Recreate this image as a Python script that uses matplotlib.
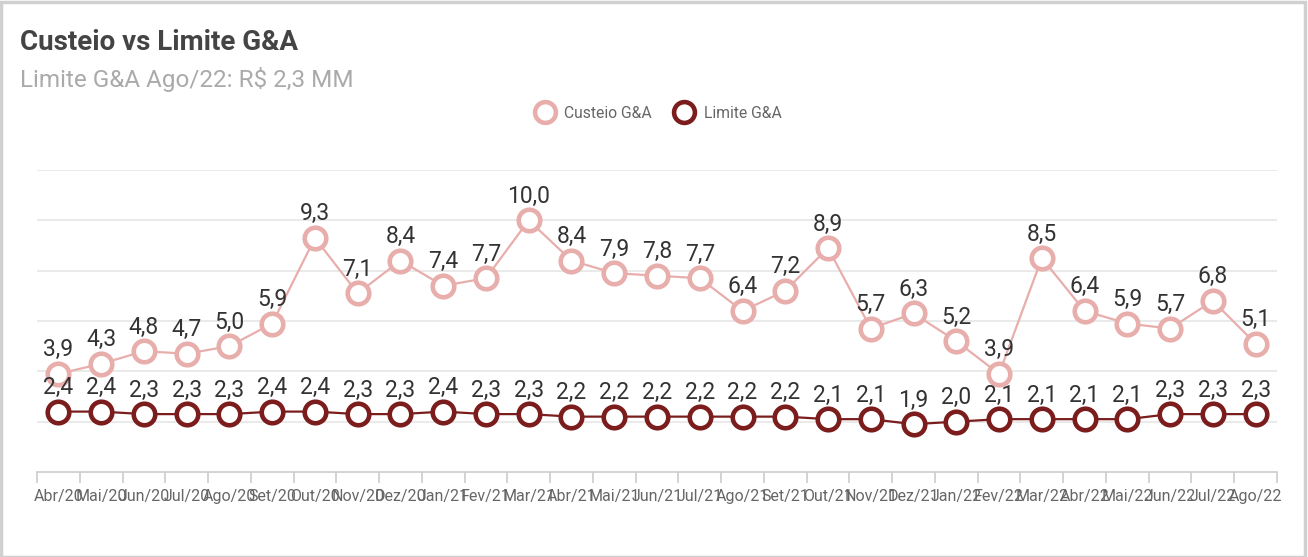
import matplotlib.pyplot as plt
from matplotlib.patches import Rectangle
import numpy as np

meses = ['Abr/20', 'Mai/20', 'Jun/20', 'Jul/20', 'Ago/20', 'Set/20', 'Out/20', 'Nov/20',
         'Dez/20', 'Jan/21', 'Fev/21', 'Mar/21', 'Abr/21', 'Mai/21', 'Jun/21', 'Jul/21',
         'Ago/21', 'Set/21', 'Out/21', 'Nov/21', 'Dez/21', 'Jan/22', 'Fev/22', 'Mar/22',
         'Abr/22', 'Mai/22', 'Jun/22', 'Jul/22', 'Ago/22']
custeio = [3.9, 4.3, 4.8, 4.7, 5.0, 5.9, 9.3, 7.1, 8.4, 7.4, 7.7, 10.0, 8.4, 7.9, 7.8, 7.7,
           6.4, 7.2, 8.9, 5.7, 6.3, 5.2, 3.9, 8.5, 6.4, 5.9, 5.7, 6.8, 5.1]
limite = [2.4, 2.4, 2.3, 2.3, 2.3, 2.4, 2.4, 2.3, 2.3, 2.4, 2.3, 2.3, 2.2, 2.2, 2.2, 2.2,
          2.2, 2.2, 2.1, 2.1, 1.9, 2.0, 2.1, 2.1, 2.1, 2.1, 2.3, 2.3, 2.3]

plt.rcParams['font.family'] = ['Roboto', 'DejaVu Sans']

cor_custeio = '#e8aeac'
cor_limite = '#7b1d1d'

fig = plt.figure(figsize=(13.08, 5.57), dpi=100)
ax = fig.add_axes([37 / 1308, 1 - 472 / 557, 1240 / 1308, 302 / 557])

x = np.arange(len(meses))
ax.plot(x, custeio, color=cor_custeio, lw=1.6, marker='o', ms=15.5, mew=3.3,
        mfc='white', mec=cor_custeio, label='Custeio G&A', zorder=3, clip_on=False)
ax.plot(x, limite, color=cor_limite, lw=1.6, marker='o', ms=15.5, mew=3.3,
        mfc='white', mec=cor_limite, label='Limite G&A', zorder=4, clip_on=False)

# rótulos de valor acima de cada ponto
for i in range(len(meses)):
    ax.annotate(f'{custeio[i]:.1f}'.replace('.', ','), (x[i], custeio[i]),
                xytext=(0, 9), textcoords='offset points', ha='center', va='bottom',
                fontsize=16.5, color='#333333', zorder=5)
    ax.annotate(f'{limite[i]:.1f}'.replace('.', ','), (x[i], limite[i]),
                xytext=(0, 9), textcoords='offset points', ha='center', va='bottom',
                fontsize=16.5, color='#333333', zorder=5)

ax.set_xlim(-0.5, len(meses) - 0.5)
ax.set_ylim(0, 12)
ax.set_yticks([2, 4, 6, 8, 10, 12])
ax.yaxis.grid(True, color='#e6e6e6', lw=1.2)
ax.tick_params(axis='y', left=False, labelleft=False)

ax.set_xticks(np.arange(-0.5, len(meses), 1))
ax.set_xticklabels([])
ax.set_xticks(x, minor=True)
ax.set_xticklabels(meses, minor=True)
ax.tick_params(axis='x', which='major', length=8, color='#cccccc', width=1.2)
ax.tick_params(axis='x', which='minor', length=0, pad=12, labelsize=11.5, labelcolor='#666666')

for s in ['top', 'right', 'left']:
    ax.spines[s].set_visible(False)
ax.spines['bottom'].set_color('#cccccc')
ax.spines['bottom'].set_linewidth(1.2)
ax.set_axisbelow(True)

leg = fig.legend(loc='center', bbox_to_anchor=(658 / 1308, 1 - 113 / 557), ncol=2,
                 frameon=False, fontsize=11.3, labelcolor='#666666', handlelength=1.3,
                 handletextpad=0.6, columnspacing=1.4)
for h in leg.legend_handles:
    h.set_linestyle('none')
    h.set_markersize(15)

fig.text(20 / 1308, 1 - 42 / 557, 'Custeio vs Limite G&A', fontsize=20, fontweight='bold',
         color='#444444', va='center')
fig.text(20 / 1308, 1 - 79 / 557, 'Limite G&A Ago/22: R$ 2,3 MM', fontsize=17.5,
         color='#aaaaaa', va='center')

fig.patches.append(Rectangle((0.001, 0.0), 0.997, 0.997, transform=fig.transFigure,
                             fill=False, edgecolor='#d0d0d0', lw=2.5))

fig.savefig('out.png', dpi=100)
